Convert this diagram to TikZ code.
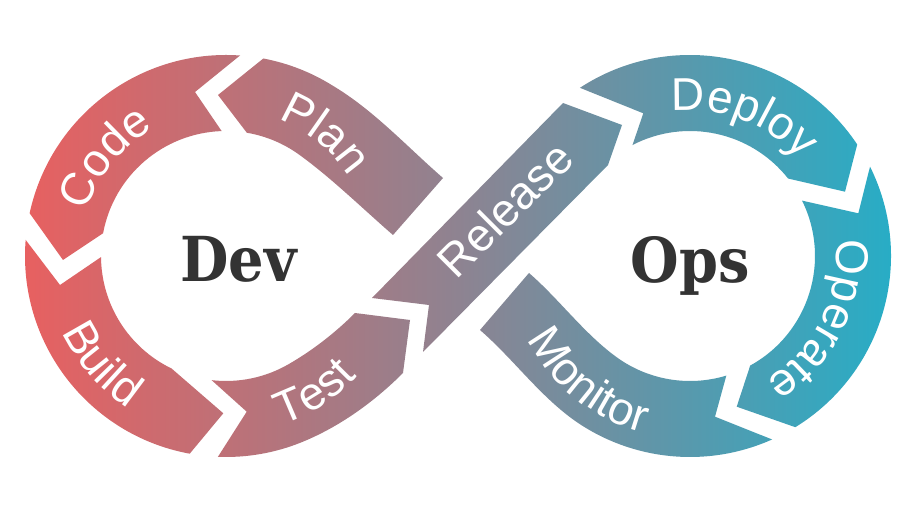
\documentclass[tikz,border=0pt]{standalone}
\usepackage{fontspec}
\setmainfont{Liberation Sans}
\newfontfamily\slabfont{DejaVu Serif}
\usetikzlibrary{calc,decorations.text}
\definecolor{cLeft}{HTML}{E86060}
\definecolor{cMid}{HTML}{8E8391}
\definecolor{cRight}{HTML}{27ADC6}
\definecolor{cDark}{HTML}{333333}
\newcommand\lblfont{\fontsize{46}{46}\selectfont}
\newcommand\bigfont{\slabfont\bfseries\fontsize{62}{62}\selectfont}
\begin{document}
\begin{tikzpicture}[x=1pt,y=1pt,
  arclabel/.style={decorate,decoration={text along path,text align=center,text color=white,text={|\lblfont|#1}}},
  straightlabel/.style={text=white,font=\lblfont,inner sep=0pt},
  biglabel/.style={text=cDark,font=\bigfont,inner sep=0pt,anchor=base,xscale=0.9}]
\useasboundingbox (0,0) rectangle (916,506);
\fill[white] (0,0) rectangle (916,506);
\coordinate (L) at (226,250);
\coordinate (R) at (690,250);
\begin{scope}
\clip
 % Code
 ($(L)+(86:201)$) arc[start angle=86,end angle=167.7,radius=201] -- (63,246)
   -- ($(L)+(169.5:125)$) arc[start angle=169.5,end angle=92,radius=125] -- (195,414) -- cycle
 % Plan
 ($(L)+(79.3:201)$) -- (218,411) -- ($(L)+(80.4:125)$)
   arc[start angle=80.4,end angle=54,radius=125]
   .. controls (331.9,327.6) and (362.8,297.2) .. (393,271) -- (443,328)
   .. controls (406.8,359.5) and (373.7,395.9) .. ($(L)+(58:201)$)
   arc[start angle=58,end angle=79.3,radius=201] -- cycle
 % Build
 ($(L)+(175.4:201)$) arc[start angle=175.4,end angle=259.6,radius=201] -- (223.3,92.7)
   -- ($(L)+(244.2:125)$) arc[start angle=244.2,end angle=180.5,radius=125] -- (60,221) -- cycle
 % Test
 ($(L)+(267.7:201)$) -- (246.7,94.3) -- ($(L)+(263.4:125)$)
   arc[start angle=263.4,end angle=300,radius=125]
   .. controls (312.7,155.7) and (335.2,173.2) .. (355,193) -- (410,186) -- (403,133)
   .. controls (374,104) and (339.3,79) .. ($(L)+(292:201)$)
   arc[start angle=292,end angle=267.7,radius=201] -- cycle
 % Release
 (372,208) -- (429,201) -- (423,154) -- (608,341) -- (622,381) -- (563,403) -- cycle
 % Deploy
 ($(R)+(123.2:201)$) arc[start angle=123.2,end angle=33.7,radius=201] -- (845,314.3)
   -- ($(R)+(38.3:125)$) arc[start angle=38.3,end angle=117.4,radius=125] -- (643.3,392.7) -- cycle
 % Operate
 ($(R)+(26.4:201)$) arc[start angle=26.4,end angle=-58.4,radius=201] -- (736.7,99.3)
   -- ($(R)+(-61.2:125)$) arc[start angle=-61.2,end angle=26.3,radius=125] -- (858.3,292.7) -- cycle
 % Monitor
 (529,233) .. controls (559.2,206.8) and (584.1,172.4) .. ($(R)+(234:125)$)
   arc[start angle=234,end angle=286.9,radius=125] -- (715,89.3)
   -- ($(R)+(294.1:201)$) arc[start angle=294.1,end angle=238,radius=201]
   .. controls (543.6,104.4) and (515.5,145.2) .. (480,176) -- cycle;
\shade[left color=cLeft,right color=cRight,middle color=cMid] (22,40) rectangle (894,466);
\end{scope}
% curved labels
\path[arclabel=Code] ($(L)+(176:146)$) arc[start angle=176,end angle=106,radius=146];
\path[arclabel=Plan] ($(L)+(86:146)$) arc[start angle=86,end angle=16,radius=146];
\path[arclabel=Build] ($(L)+(186:181)$) arc[start angle=186,end angle=256,radius=181];
\path[arclabel=Test] ($(L)+(268:178)$) arc[start angle=268,end angle=338,radius=178];
\path[arclabel=Deploy] ($(R)+(104:146)$) arc[start angle=104,end angle=34,radius=146];
\path[arclabel=Operate] ($(R)+(9:146)$) arc[start angle=9,end angle=-61,radius=146];
\path[arclabel=Monitor] ($(R)+(196:183)$) arc[start angle=196,end angle=266,radius=183];
\node[straightlabel,rotate=45] (release) at (505,297) {Release};
\node[biglabel] (dev) at (238.5,224) {Dev};
\node[biglabel] (ops) at (690.5,223) {Ops};
\end{tikzpicture}
\end{document}
